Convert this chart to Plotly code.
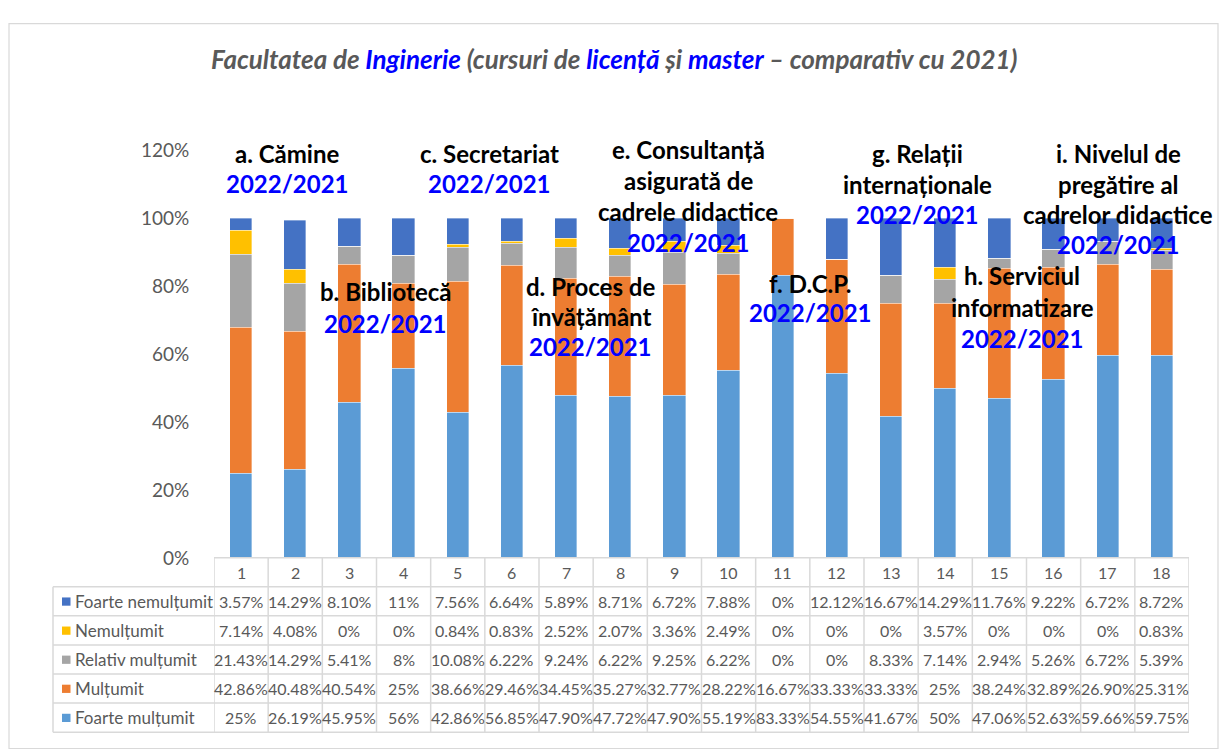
import plotly.graph_objects as go

W, H = 1220, 749

categories = [str(i) for i in range(1, 19)]
series_names = ["Foarte nemulțumit", "Nemulțumit", "Relativ mulțumit", "Mulțumit", "Foarte mulțumit"]
foarte_nemultumit = [3.57, 14.29, 8.10, 11, 7.56, 6.64, 5.89, 8.71, 6.72, 7.88, 0, 12.12, 16.67, 14.29, 11.76, 9.22, 6.72, 8.72]
nemultumit = [7.14, 4.08, 0, 0, 0.84, 0.83, 2.52, 2.07, 3.36, 2.49, 0, 0, 0, 3.57, 0, 0, 0, 0.83]
relativ_multumit = [21.43, 14.29, 5.41, 8, 10.08, 6.22, 9.24, 6.22, 9.25, 6.22, 0, 0, 8.33, 7.14, 2.94, 5.26, 6.72, 5.39]
multumit = [42.86, 40.48, 40.54, 25, 38.66, 29.46, 34.45, 35.27, 32.77, 28.22, 16.67, 33.33, 33.33, 25, 38.24, 32.89, 26.90, 25.31]
foarte_multumit = [25, 26.19, 45.95, 56, 42.86, 56.85, 47.90, 47.72, 47.90, 55.19, 83.33, 54.55, 41.67, 50, 47.06, 52.63, 59.66, 59.75]
series_values = [foarte_nemultumit, nemultumit, relativ_multumit, multumit, foarte_multumit]
colors = ["#4472C4", "#FFC000", "#A5A5A5", "#ED7D31", "#5B9BD5"]
y_ticks = [0, 0.2, 0.4, 0.6, 0.8, 1.0, 1.2]

section_labels = [
    ("a. Cămine", 287, [146], 177),
    ("b. Bibliotecă", 385, [288], 321),
    ("c. Secretariat", 489, [146], 177),
    ("d. Proces de<br>învățământ", 590, [283, 314], 345),
    ("e. Consultanță<br>asigurată de<br>cadrele didactice", 688, [142, 174, 206], 238),
    ("f. D.C.P.", 811, [280], 310),
    ("g. Relații<br>internaționale", 917, [146, 178], 209),
    ("h. Serviciul<br>informatizare", 1022, [272, 305], 337),
    ("i. Nivelul de<br>pregătire al<br>cadrelor didactice", 1118, [146, 178, 209], 240),
]
year_label = "2022/2021"

FONT = "Lato"
GRAY = "#595959"
LINE = "#D9D9D9"


def px(x):
    return x / W


def py(y):
    return 1 - y / H


fig = go.Figure()
# stack bottom-up
for name, vals, col in reversed(list(zip(series_names, series_values, colors))):
    fig.add_trace(go.Bar(
        x=list(range(1, 19)), y=[v / 100 for v in vals], name=name,
        marker=dict(color=col, line=dict(color="rgba(255,255,255,0.6)", width=0.6)),
        width=0.41, showlegend=False, hoverinfo="x+y+name",
    ))

x0, x1 = 214, 1189
y_top, y_bot = 143, 564
shapes = []
annotations = []

# outer chart border
shapes.append(dict(type="rect", xref="paper", yref="paper", x0=px(9), x1=px(1218), y0=py(760), y1=py(12),
                   line=dict(color=LINE, width=1.2), fillcolor="rgba(0,0,0,0)", layer="below"))

# table geometry
row_h = 30
hdr_top = 563
rows_top = hdr_top + row_h
n = len(categories)
for i in range(n + 1):
    shapes.append(dict(type="line", xref="x", yref="paper", x0=i + 0.5, x1=i + 0.5,
                       y0=py(hdr_top), y1=py(rows_top + row_h * 5), line=dict(color=LINE, width=1.5)))
shapes.append(dict(type="line", xref="paper", yref="paper", x0=px(53), x1=px(53),
                   y0=py(rows_top), y1=py(rows_top + row_h * 5), line=dict(color=LINE, width=1.5)))
shapes.append(dict(type="line", xref="paper", yref="paper", x0=px(x0), x1=px(x1),
                   y0=py(hdr_top), y1=py(hdr_top), line=dict(color=LINE, width=1.5)))
for r in range(6):
    yy = rows_top + r * row_h
    shapes.append(dict(type="line", xref="paper", yref="paper", x0=px(53), x1=px(x1),
                       y0=py(yy), y1=py(yy), line=dict(color=LINE, width=1.5)))

for i, c in enumerate(categories):
    annotations.append(dict(x=i + 1, y=py(hdr_top + row_h / 2), xref="x", yref="paper", text=c,
                            showarrow=False, font=dict(family=FONT, size=16, color=GRAY),
                            xanchor="center", yanchor="middle"))


def fmt(v):
    if abs(v - round(v)) < 1e-9:
        return f"{int(round(v))}%"
    return f"{v:.2f}%"


for r, (name, vals, col) in enumerate(zip(series_names, series_values, colors)):
    yc = rows_top + r * row_h + row_h / 2
    shapes.append(dict(type="rect", xref="paper", yref="paper", x0=px(62), x1=px(70.5),
                       y0=py(yc + 4.5), y1=py(yc - 4), fillcolor=col, line=dict(width=0)))
    annotations.append(dict(x=px(73), y=py(yc), xref="paper", yref="paper", text=name,
                            showarrow=False, font=dict(family=FONT, size=17, color=GRAY),
                            xanchor="left", yanchor="middle"))
    for i, v in enumerate(vals):
        annotations.append(dict(x=i + 1, y=py(yc), xref="x", yref="paper", text=fmt(v),
                                showarrow=False, font=dict(family=FONT, size=16, color=GRAY),
                                xanchor="center", yanchor="middle"))

for text, cx, ys, yy in section_labels:
    for line_text, ly in zip(text.split("<br>"), ys):
        annotations.append(dict(x=px(cx), y=py(ly), xref="paper", yref="paper", text=f"<b>{line_text}</b>",
                                showarrow=False, font=dict(family=FONT, size=24, color="#000000"),
                                xanchor="center", yanchor="middle"))
    annotations.append(dict(x=px(cx), y=py(yy), xref="paper", yref="paper", text=f"<b>{year_label}</b>",
                            showarrow=False, font=dict(family=FONT, size=24, color="#0000FF"),
                            xanchor="center", yanchor="middle"))

blue = "#0000FF"
title = (f"<b><i>Facultatea de <span style='color:{blue}'>Inginerie</span> (cursuri de "
         f"<span style='color:{blue}'>licență</span> și <span style='color:{blue}'>master</span>"
         f" – comparativ cu 2021)</i></b>")
annotations.append(dict(x=px(615), y=py(48), xref="paper", yref="paper", text=title, showarrow=False,
                        font=dict(family=FONT, size=26, color=GRAY), xanchor="center", yanchor="middle"))

fig.update_layout(
    width=W, height=H,
    margin=dict(l=0, r=0, t=0, b=0),
    paper_bgcolor="white", plot_bgcolor="white",
    barmode="stack", bargap=0,
    xaxis=dict(domain=[px(x0), px(x1)], range=[0.5, 18.5], showticklabels=False, showgrid=False,
               zeroline=False, showline=False, ticks=""),
    yaxis=dict(domain=[py(y_bot), py(y_top)], range=[0, 1.2], tickvals=y_ticks, tickformat=".0%",
               showgrid=False, zeroline=False, showline=False, ticks="outside", ticklen=20,
               tickcolor="rgba(0,0,0,0)",
               tickfont=dict(family=FONT, size=19, color=GRAY)),
    shapes=shapes, annotations=annotations,
    font=dict(family=FONT),
)

fig.write_html("out.html", config={"displayModeBar": False},
               post_script="document.body.style.margin='0';document.body.style.overflow='hidden';")
